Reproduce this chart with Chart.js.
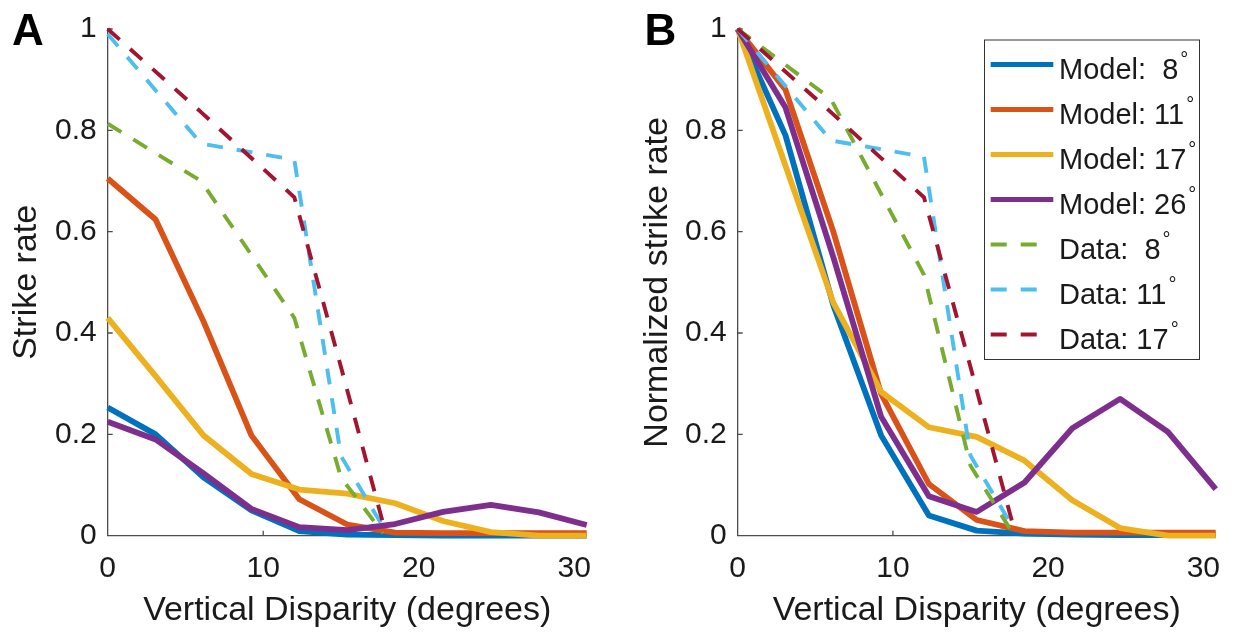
<!DOCTYPE html>
<html>
<head>
<meta charset="utf-8">
<script src="https://cdn.jsdelivr.net/npm/chart.js@4.4.0/dist/chart.umd.min.js"></script>
<style>
html,body{margin:0;padding:0;background:#fff;}
#wrap{position:relative;width:1236px;height:632px;overflow:hidden;}
canvas{position:absolute;left:0;top:0;}
</style>
</head>
<body>
<div id="wrap">
<canvas id="cA" width="1236" height="632"></canvas>
<canvas id="cB" width="1236" height="632"></canvas>
</div>
<script>
// ---------- data ----------
const disparityModel = [0, 3.08, 6.16, 9.24, 12.32, 15.4, 18.48, 21.56, 24.64, 27.72, 30.8];
const disparityData  = [0, 6, 12, 15, 17.7];
const xTicks = [0, 10, 20, 30];
const yTicks = [0, 0.2, 0.4, 0.6, 0.8, 1];
const xTickLabels = ['0', '10', '20', '30'];
const yTickLabels = ['0', '0.2', '0.4', '0.6', '0.8', '1'];
const seriesLabels = ['Model:  8°', 'Model: 11°', 'Model: 17°', 'Model: 26°', 'Data:  8°', 'Data: 11°', 'Data: 17°'];

// Panel A: strike rate
const modelA8  = [0.253, 0.200, 0.115, 0.050, 0.009, 0.002, 0.001, 0.000, 0.000, 0.000, 0.000];
const modelA11 = [0.705, 0.624, 0.423, 0.198, 0.072, 0.022, 0.006, 0.005, 0.005, 0.005, 0.005];
const modelA17 = [0.430, 0.315, 0.198, 0.122, 0.091, 0.083, 0.064, 0.029, 0.007, 0.000, 0.000];
const modelA26 = [0.225, 0.190, 0.123, 0.053, 0.017, 0.011, 0.023, 0.047, 0.061, 0.046, 0.021];
const dataA8   = [0.813, 0.700, 0.430, 0.115, 0.005];
const dataA11  = [0.990, 0.774, 0.742, 0.157, 0.018];
const dataA17  = [1.000, 0.836, 0.668, 0.333, 0.025];

// Panel B: normalized strike rate
const modelB8  = [1.000, 0.790, 0.455, 0.198, 0.040, 0.010, 0.004, 0.002, 0.001, 0.001, 0.001];
const modelB11 = [1.000, 0.880, 0.600, 0.280, 0.102, 0.031, 0.009, 0.006, 0.006, 0.006, 0.006];
const modelB17 = [1.000, 0.730, 0.460, 0.284, 0.214, 0.195, 0.148, 0.070, 0.015, 0.000, 0.000];
const modelB26 = [1.000, 0.845, 0.550, 0.235, 0.078, 0.047, 0.105, 0.212, 0.270, 0.205, 0.092];
const dataB8   = [1.000, 0.862, 0.515, 0.138, 0.006];
const dataB11  = [1.000, 0.780, 0.748, 0.158, 0.018];
const dataB17  = [1.000, 0.836, 0.668, 0.333, 0.025];

// ---------- style ----------
const COLORS = ['#0072BD', '#D95319', '#EDB120', '#7E2F8E', '#77AC30', '#4DBEEE', '#A2142F'];
const FONT = "'Liberation Sans', Arial, Helvetica, sans-serif";
const TEXT = '#1a1a1a';
const AXIS = '#4d4d4d';

Chart.defaults.font.family = FONT;
Chart.defaults.color = TEXT;

function pts(xs, ys) { return xs.map((x, i) => ({x: x, y: ys[i]})); }

function makeDatasets(models, datas) {
  const ds = [];
  models.forEach((m, i) => ds.push({
    label: seriesLabels[i], data: pts(disparityModel, m),
    borderColor: COLORS[i], backgroundColor: COLORS[i], borderWidth: 5.8,
    borderDash: [], pointRadius: 0, tension: 0, fill: false, clip: false,
    borderJoinStyle: 'round', borderCapStyle: 'butt', order: 20 - i
  }));
  datas.forEach((d, j) => {
    const i = j + 4;
    ds.push({
      label: seriesLabels[i], data: pts(disparityData, d),
      borderColor: COLORS[i], backgroundColor: COLORS[i], borderWidth: 3.9,
      borderDash: [16, 14], pointRadius: 0, tension: 0, fill: false, clip: false,
      borderJoinStyle: 'miter', borderCapStyle: 'butt', order: 20 - i
    });
  });
  return ds;
}

function tickMarks() {
  return {
    id: 'tickMarks',
    beforeDatasetsDraw(chart) {
      const {ctx, chartArea: a, scales: {x, y}} = chart;
      ctx.save();
      ctx.strokeStyle = AXIS; ctx.lineWidth = 1.3;
      ctx.beginPath();
      xTicks.forEach(v => { if (v === 0) return; const px = x.getPixelForValue(v); ctx.moveTo(px, a.bottom); ctx.lineTo(px, a.bottom - 5); });
      yTicks.forEach(v => { if (v === 0) return; const py = y.getPixelForValue(v); ctx.moveTo(a.left, py); ctx.lineTo(a.left + 5, py); });
      ctx.stroke();
      ctx.restore();
    }
  };
}

function panelLetter(letter, x) {
  return {
    id: 'panelLetter',
    afterDraw(chart) {
      const ctx = chart.ctx;
      ctx.save();
      ctx.font = 'bold 44px ' + FONT;
      ctx.fillStyle = '#000';
      ctx.textAlign = 'left'; ctx.textBaseline = 'alphabetic';
      ctx.fillText(letter, x, 45);
      ctx.restore();
    }
  };
}

const legendPlugin = {
  id: 'boxLegend',
  afterDraw(chart) {
    const ctx = chart.ctx;
    const L = 984, T = 39.5, R = 1200, B = 360;
    ctx.save();
    ctx.fillStyle = '#fff';
    ctx.fillRect(L, T, R - L, B - T);
    ctx.strokeStyle = '#333'; ctx.lineWidth = 1;
    ctx.strokeRect(L + 0.5, T + 0.5, R - L - 1, B - T - 1);
    chart.data.datasets.forEach((ds, i) => {
      const y = 64.5 + i * 45;
      const dashed = ds.borderDash.length > 0;
      ctx.beginPath();
      ctx.strokeStyle = ds.borderColor;
      ctx.lineWidth = dashed ? 4 : 5;
      ctx.lineCap = 'butt';
      ctx.setLineDash(ds.borderDash);
      ctx.moveTo(990.7, y);
      ctx.lineTo(dashed ? 1037 : 1053.3, y);
      ctx.stroke();
      ctx.setLineDash([]);
      const full = ds.label;
      const main = full.replace('°', '');
      ctx.fillStyle = TEXT;
      ctx.textAlign = 'left'; ctx.textBaseline = 'alphabetic';
      ctx.font = '29px ' + FONT;
      ctx.fillText(main, 1059, y + 14.5);
      const w = ctx.measureText(main).width;
      ctx.font = '20px ' + FONT;
      ctx.fillText('°', 1059 + w + 2, y + 1);
    });
    ctx.restore();
  }
};

function makeChart(id, datasets, opts) {
  return new Chart(document.getElementById(id), {
    type: 'line',
    data: {datasets: datasets},
    options: {
      responsive: false, animation: false, devicePixelRatio: 1,
      layout: {padding: {left: opts.padL, right: opts.padR, top: 22.5, bottom: 0}},
      plugins: {legend: {display: false}, tooltip: {enabled: false}},
      scales: {
        x: {
          type: 'linear', min: 0, max: 30.8,
          grid: {display: false, drawTicks: false},
          border: {display: true, color: AXIS, width: 1.3},
          afterBuildTicks: s => { s.ticks = xTicks.map(v => ({value: v})); },
          afterFit: s => { s.height = 96.3; },
          ticks: {font: {size: 30}, padding: 15.5, color: TEXT, maxRotation: 0, autoSkip: false,
                  callback: v => xTickLabels[xTicks.indexOf(v)]},
          title: {display: true, text: 'Vertical Disparity (degrees)', font: {size: 34}, color: TEXT, padding: {top: 0, bottom: 0.6}}
        },
        y: {
          type: 'linear', min: 0, max: 1,
          grid: {display: false, drawTicks: false},
          border: {display: true, color: AXIS, width: 1.3},
          afterBuildTicks: s => { s.ticks = yTicks.map(v => ({value: v})); },
          afterFit: s => { s.width = opts.yWidth; },
          ticks: {font: {size: 30}, padding: 11, color: TEXT, autoSkip: false,
                  callback: v => yTickLabels[yTicks.indexOf(v)]},
          title: {display: true, text: opts.yTitle, font: {size: 34}, color: TEXT, padding: {top: opts.yTitlePad, bottom: 0}}
        }
      }
    },
    plugins: opts.plugins
  });
}

makeChart('cA', makeDatasets([modelA8, modelA11, modelA17, modelA26], [dataA8, dataA11, dataA17]), {
  padL: 0, padR: 1236 - 586.7, yWidth: 107.7, yTitle: 'Strike rate', yTitlePad: 6.6,
  plugins: [tickMarks(), panelLetter('A', 12)]
});
makeChart('cB', makeDatasets([modelB8, modelB11, modelB17, modelB26], [dataB8, dataB11, dataB17]), {
  padL: 618, padR: 1236 - 1216.7, yWidth: 119.7, yTitle: 'Normalized strike rate', yTitlePad: 19.6,
  plugins: [tickMarks(), panelLetter('B', 644.5), legendPlugin]
});
</script>
</body>
</html>
